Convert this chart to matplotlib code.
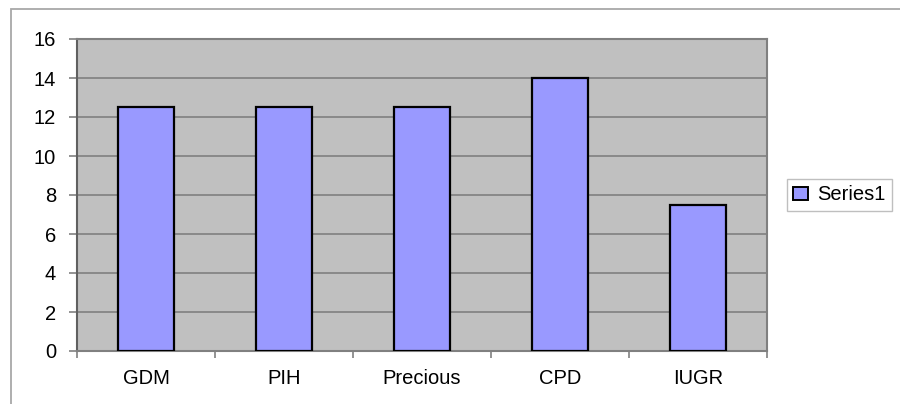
import matplotlib.pyplot as plt
from matplotlib.patches import Rectangle, Patch

categories = ["GDM", "PIH", "Precious", "CPD", "IUGR"]
values = [12.5, 12.5, 12.5, 14, 7.5]
series_name = "Series1"

plt.rcParams['font.family'] = ['Liberation Sans', 'DejaVu Sans']

fig = plt.figure(figsize=(9.0, 4.04), dpi=100)
ax = fig.add_axes([77/900, 53/404, 690/900, 312/404])

# outer chart border (left and top visible)
fig.patches.append(Rectangle((11/900, -0.1), 1.0, 1 - 9/404 + 0.1, transform=fig.transFigure,
                             fill=False, edgecolor="#a8a8a8", linewidth=1.3))

ax.set_facecolor("#c0c0c0")
x = list(range(len(categories)))
ax.bar(x, values, width=0.4, color="#9999ff", edgecolor="black", linewidth=1.6, zorder=3)

ax.set_xlim(-0.5, len(categories) - 0.5)
ax.set_ylim(0, 16)
ax.set_yticks(range(0, 17, 2))
ax.yaxis.grid(True, color="#808080", linewidth=1.2, zorder=0)
ax.set_axisbelow(True)

ax.set_xticks(x)
ax.set_xticklabels(categories)
ax.set_xticks([i - 0.5 for i in range(len(categories) + 1)], minor=True)
ax.tick_params(axis="x", which="major", length=0, pad=13, labelsize=14.5)
ax.tick_params(axis="x", which="minor", length=5, color="#808080", width=1.2)
ax.tick_params(axis="y", length=6, color="#808080", width=1.2, labelsize=14.5, pad=9)

for side in ["left", "bottom", "top", "right"]:
    ax.spines[side].set_color("#808080")
    ax.spines[side].set_linewidth(1.5)
ax.spines["left"].set_color("#606060")

leg = fig.legend(handles=[Patch(facecolor="#9999ff", edgecolor="black", linewidth=1.4, label=series_name)],
                 loc="center left", bbox_to_anchor=(787/900, 1 - 195/404),
                 frameon=True, fancybox=False, fontsize=14.5, handlelength=0.75, handleheight=0.6,
                 handletextpad=0.45, borderpad=0.3, borderaxespad=0)
leg.get_frame().set_edgecolor("#b0b0b0")
leg.get_frame().set_linewidth(1.0)

fig.savefig("out.png", dpi=100)
